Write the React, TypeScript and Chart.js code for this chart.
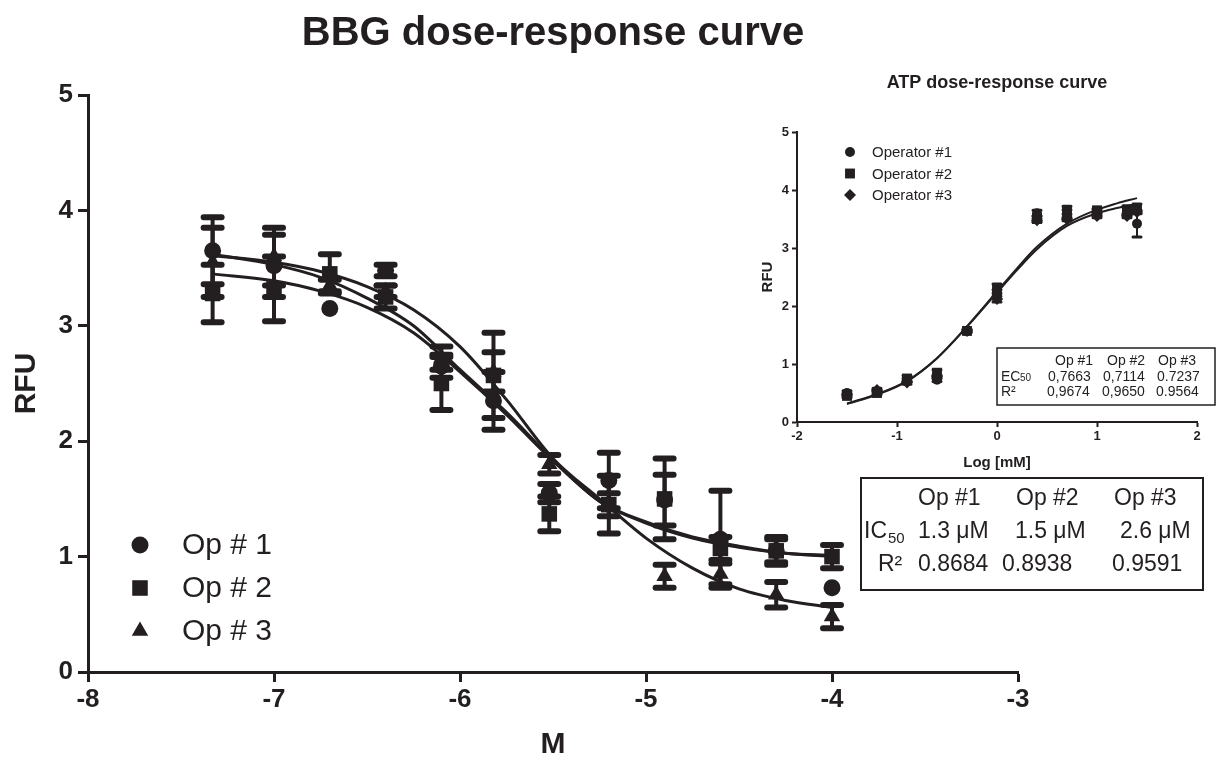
import React, { useEffect, useRef } from 'react';
import { Chart, registerables } from 'chart.js';
import { drawPoint } from 'chart.js/helpers';

Chart.register(...registerables);

const FONT = '"Liberation Sans", Arial, Helvetica, sans-serif';
const INK = '#231f20';

// ---------------- Main chart: BBG ----------------
const bbgTitle = 'BBG dose-response curve';
const bbgXTitle = 'M';
const bbgYTitle = 'RFU';
const bbgLogM = [-7.33, -7.0, -6.7, -6.4, -6.1, -5.82, -5.52, -5.2, -4.9, -4.6, -4.3, -4.0];
const op1Values = [3.65, 3.52, 3.15, 3.48, 2.65, 2.35, 1.55, 1.66, 1.49, 1.15, 1.05, 0.73];
const op1Errors = [0.29, 0.27, 0, 0.05, 0.1, 0.25, 0.08, 0.24, 0.22, 0.42, 0.1, 0];
const op2Values = [3.28, 3.32, 3.45, 3.25, 2.5, 2.57, 1.37, 1.45, 1.5, 1.07, 1.05, 1.0];
const op2Errors = [0.25, 0.28, 0.17, 0.1, 0.23, 0.37, 0.15, 0.25, 0.35, 0.1, 0.12, 0.1];
const op3Values = [3.55, 3.6, 3.35, 3.3, 2.72, 2.6, 1.8, 1.45, 0.83, 0.85, 0.67, 0.48];
const op3Errors = [0.3, 0.25, 0.05, 0.05, 0.1, 0.17, 0.08, 0.1, 0.1, 0.09, 0.11, 0.1];

const bbgCurveX = [-7.33, -7.0, -6.75, -6.5, -6.25, -6.0, -5.75, -5.5, -5.25, -5.0, -4.75, -4.5, -4.25, -4.0];
const op1Curve = [3.62, 3.53, 3.42, 3.24, 3.0, 2.62, 2.25, 1.84, 1.48, 1.3, 1.17, 1.09, 1.03, 1.01];
const op2Curve = [3.45, 3.39, 3.3, 3.16, 2.94, 2.6, 2.23, 1.83, 1.48, 1.29, 1.16, 1.08, 1.03, 1.0];
const op3Curve = [3.61, 3.55, 3.47, 3.34, 3.14, 2.82, 2.36, 1.85, 1.5, 1.16, 0.9, 0.72, 0.62, 0.56];

const bbgNames = ['Op # 1', 'Op # 2', 'Op # 3'];
const bbgTableHeader = ['Op #1', 'Op #2', 'Op #3'];
const bbgIC50 = ['1.3 μM', '1.5 μM', '2.6 μM'];
const bbgR2 = ['0.8684', '0.8938', '0.9591'];

// ---------------- Inset chart: ATP ----------------
const atpTitle = 'ATP dose-response curve';
const atpXTitle = 'Log [mM]';
const atpYTitle = 'RFU';
const atpLogMM = [-1.5, -1.2, -0.9, -0.6, -0.3, 0, 0.4, 0.7, 1.0, 1.3, 1.4];
const atp1Values = [0.5, 0.52, 0.72, 0.73, 1.57, 2.2, 3.6, 3.58, 3.63, 3.65, 3.42];
const atp1Errors = [0.04, 0.03, 0.03, 0.03, 0.02, 0.08, 0.05, 0.08, 0.03, 0.05, 0.23];
const atp2Values = [0.45, 0.5, 0.75, 0.85, 1.57, 2.3, 3.5, 3.65, 3.65, 3.65, 3.68];
const atp2Errors = [0.03, 0.03, 0.05, 0.05, 0.03, 0.08, 0.05, 0.07, 0.03, 0.08, 0.08];
const atp3Values = [0.47, 0.55, 0.68, 0.78, 1.57, 2.12, 3.48, 3.5, 3.55, 3.55, 3.62];
const atp3Errors = [0.03, 0.03, 0.03, 0.03, 0.02, 0.05, 0.03, 0.03, 0.03, 0.03, 0.03];

const atpCurveX = [-1.5, -1.2, -0.9, -0.6, -0.3, 0, 0.2, 0.4, 0.7, 1.0, 1.2, 1.4];
const atpCurveA = [0.31, 0.47, 0.7, 1.1, 1.65, 2.25, 2.65, 3.02, 3.42, 3.66, 3.77, 3.86];
const atpCurveB = [0.32, 0.48, 0.71, 1.1, 1.64, 2.23, 2.62, 2.98, 3.38, 3.6, 3.69, 3.76];

const atpNames = ['Operator #1', 'Operator #2', 'Operator #3'];
const atpTableHeader = ['Op #1', 'Op #2', 'Op #3'];
const atpEC50 = ['0,7663', '0,7114', '0.7237'];
const atpR2 = ['0,9674', '0,9650', '0.9564'];

const pts = (xs: number[], ys: number[]) => xs.map((x, i) => ({ x, y: ys[i] }));

const errorBarPlugin = {
  id: 'errorBars',
  beforeDatasetsDraw(chart: any, _args: any, opts: any) {
    const { ctx, scales } = chart;
    const xs = scales.x;
    const ys = scales.y;
    ctx.save();
    ctx.strokeStyle = INK;
    (opts.series || []).forEach((s: any) => {
      s.xs.forEach((xv: number, i: number) => {
        const e = s.errors[i];
        if (!e) return;
        const px = xs.getPixelForValue(xv);
        const top = ys.getPixelForValue(s.values[i] + e);
        const bot = ys.getPixelForValue(s.values[i] - e);
        ctx.lineCap = 'butt';
        ctx.lineWidth = opts.lineWidth;
        ctx.beginPath();
        ctx.moveTo(px, top);
        ctx.lineTo(px, bot);
        ctx.stroke();
        ctx.lineCap = 'round';
        ctx.lineWidth = opts.capWidth;
        ctx.beginPath();
        ctx.moveTo(px - opts.capHalf, top);
        ctx.lineTo(px + opts.capHalf, top);
        ctx.moveTo(px - opts.capHalf, bot);
        ctx.lineTo(px + opts.capHalf, bot);
        ctx.stroke();
      });
    });
    ctx.restore();
  },
};

const mainDecor = {
  id: 'mainDecor',
  afterDraw(chart: any) {
    const { ctx, chartArea } = chart;
    ctx.save();
    ctx.fillStyle = INK;
    ctx.strokeStyle = INK;
    ctx.textBaseline = 'middle';
    ctx.textAlign = 'center';
    ctx.font = `bold 40px ${FONT}`;
    ctx.fillText(bbgTitle, (chartArea.left + chartArea.right) / 2, 34);

    // legend
    const styles = ['circle', 'rect', 'triangle'];
    const radii = [8.5, 11, 9.5];
    bbgNames.forEach((name, i) => {
      const y = 545 + i * 43;
      drawPoint(ctx, { pointStyle: styles[i], radius: radii[i], rotation: 0, borderWidth: 0 } as any, 140, y);
      ctx.font = `30px ${FONT}`;
      ctx.textAlign = 'left';
      ctx.fillText(name, 182, y + 1);
    });

    // table
    ctx.lineWidth = 2;
    ctx.strokeRect(861, 478, 342, 112);
    ctx.font = `23px ${FONT}`;
    ctx.textAlign = 'left';
    const cols = [918, 1016, 1114];
    bbgTableHeader.forEach((t, i) => ctx.fillText(t, cols[i], 499));
    ctx.fillText('IC', 864, 532);
    ctx.font = `15px ${FONT}`;
    ctx.fillText('50', 888, 539);
    ctx.font = `23px ${FONT}`;
    const icCols = [918, 1015, 1120];
    bbgIC50.forEach((t, i) => ctx.fillText(t, icCols[i], 532));
    ctx.fillText('R²', 878, 565);
    const rCols = [918, 1002, 1112];
    bbgR2.forEach((t, i) => ctx.fillText(t, rCols[i], 565));
    ctx.restore();
  },
};

const insetDecor = {
  id: 'insetDecor',
  afterDraw(chart: any) {
    const { ctx } = chart;
    ctx.save();
    ctx.fillStyle = INK;
    ctx.strokeStyle = INK;
    ctx.textBaseline = 'middle';
    ctx.textAlign = 'center';
    ctx.font = `bold 18px ${FONT}`;
    ctx.fillText(atpTitle, 257, 23);

    const styles = ['circle', 'rect', 'rectRot'];
    const radii = [5, 7, 6];
    atpNames.forEach((name, i) => {
      const y = 92 + i * 21.5;
      drawPoint(ctx, { pointStyle: styles[i], radius: radii[i], rotation: 0, borderWidth: 0 } as any, 110, y);
      ctx.font = `15px ${FONT}`;
      ctx.textAlign = 'left';
      ctx.fillText(name, 132, y + 1);
    });

    ctx.lineWidth = 1.5;
    ctx.strokeRect(257, 288, 218, 57);
    ctx.font = `14px ${FONT}`;
    ctx.textAlign = 'left';
    const hc = [315, 367, 418];
    atpTableHeader.forEach((t, i) => ctx.fillText(t, hc[i], 301));
    ctx.fillText('EC', 261, 317);
    ctx.font = `10px ${FONT}`;
    ctx.fillText('50', 280, 318);
    ctx.font = `14px ${FONT}`;
    const vc = [308, 363, 417];
    atpEC50.forEach((t, i) => ctx.fillText(t, vc[i], 317));
    ctx.fillText('R²', 261, 332);
    atpR2.forEach((t, i) => ctx.fillText(t, vc[i] - 1, 332));
    ctx.restore();
  },
};

function axis(opts: {
  min: number; max: number; title: string; tickSize: number; titleSize: number;
  tickLen: number; lineW: number; tickPad: number; titlePad: any; titleLH: number; fit: (s: any) => void;
}) {
  return {
    type: 'linear',
    min: opts.min,
    max: opts.max,
    afterFit: opts.fit,
    ticks: {
      stepSize: 1,
      color: INK,
      padding: opts.tickPad,
      font: { family: FONT, size: opts.tickSize, weight: 'bold' },
    },
    grid: {
      display: true,
      drawOnChartArea: false,
      drawTicks: true,
      tickLength: opts.tickLen,
      tickWidth: opts.lineW,
      color: INK,
    },
    border: { display: true, width: opts.lineW, color: INK },
    title: {
      display: true,
      text: opts.title,
      color: INK,
      padding: opts.titlePad,
      font: { family: FONT, size: opts.titleSize, weight: 'bold', lineHeight: opts.titleLH },
    },
  };
}

export default function App() {
  const mainRef = useRef<HTMLCanvasElement>(null);
  const insetRef = useRef<HTMLCanvasElement>(null);

  useEffect(() => {
    const curve = (data: number[], xs: number[], w: number) => ({
      data: pts(xs, data),
      showLine: true,
      borderColor: INK,
      borderWidth: w,
      pointRadius: 0,
      cubicInterpolationMode: 'monotone',
      fill: false,
    });
    const marks = (data: number[], xs: number[], style: string, r: number) => ({
      data: pts(xs, data),
      showLine: false,
      pointStyle: style,
      pointRadius: r,
      pointHoverRadius: r,
      backgroundColor: INK,
      borderColor: INK,
      borderWidth: 0,
    });

    const main = new Chart(mainRef.current as HTMLCanvasElement, {
      type: 'scatter',
      data: {
        datasets: [
          curve(op1Curve, bbgCurveX, 3),
          curve(op2Curve, bbgCurveX, 3),
          curve(op3Curve, bbgCurveX, 3),
          marks(op1Values, bbgLogM, 'circle', 8.5),
          marks(op2Values, bbgLogM, 'rect', 11),
          marks(op3Values, bbgLogM, 'triangle', 9.5),
        ] as any,
      },
      options: {
        responsive: false,
        animation: false,
        events: [],
        layout: { padding: { left: 0, right: 199, top: 95, bottom: 0 } },
        plugins: {
          legend: { display: false },
          tooltip: { enabled: false },
          title: { display: false },
          errorBars: {
            lineWidth: 4,
            capWidth: 6,
            capHalf: 9,
            series: [
              { xs: bbgLogM, values: op1Values, errors: op1Errors },
              { xs: bbgLogM, values: op2Values, errors: op2Errors },
              { xs: bbgLogM, values: op3Values, errors: op3Errors },
            ],
          },
        } as any,
        scales: {
          x: axis({
            min: -8, max: -3, title: bbgXTitle, tickSize: 26, titleSize: 30, tickLen: 10, lineW: 3,
            tickPad: 2, titlePad: { top: 0, bottom: 0 }, titleLH: 0.8, fit: (s: any) => { s.height = 85; },
          }),
          y: axis({
            min: 0, max: 5, title: bbgYTitle, tickSize: 26, titleSize: 30, tickLen: 10, lineW: 3,
            tickPad: 5, titlePad: { top: 12, bottom: 0 }, titleLH: 1, fit: (s: any) => { s.width = 88; },
          }),
        } as any,
      },
      plugins: [errorBarPlugin, mainDecor],
    });

    const inset = new Chart(insetRef.current as HTMLCanvasElement, {
      type: 'scatter',
      data: {
        datasets: [
          curve(atpCurveA, atpCurveX, 2),
          curve(atpCurveB, atpCurveX, 2),
          marks(atp1Values, atpLogMM, 'circle', 5),
          marks(atp2Values, atpLogMM, 'rect', 7),
          marks(atp3Values, atpLogMM, 'rectRot', 6),
        ] as any,
      },
      options: {
        responsive: false,
        animation: false,
        events: [],
        layout: { padding: { left: 0, right: 20, top: 72, bottom: 0 } },
        plugins: {
          legend: { display: false },
          tooltip: { enabled: false },
          title: { display: false },
          errorBars: {
            lineWidth: 2,
            capWidth: 3,
            capHalf: 4,
            series: [
              { xs: atpLogMM, values: atp1Values, errors: atp1Errors },
              { xs: atpLogMM, values: atp2Values, errors: atp2Errors },
              { xs: atpLogMM, values: atp3Values, errors: atp3Errors },
            ],
          },
        } as any,
        scales: {
          x: axis({
            min: -2, max: 2, title: atpXTitle, tickSize: 13, titleSize: 15, tickLen: 5, lineW: 2,
            tickPad: 2, titlePad: { top: 0, bottom: 10 }, titleLH: 1, fit: (s: any) => { s.height = 58; },
          }),
          y: axis({
            min: 0, max: 5, title: atpYTitle, tickSize: 13, titleSize: 15, tickLen: 5, lineW: 2,
            tickPad: 3, titlePad: { top: 20, bottom: 0 }, titleLH: 1, fit: (s: any) => { s.width = 57; },
          }),
        } as any,
      },
      plugins: [errorBarPlugin, insetDecor],
    });

    return () => {
      main.destroy();
      inset.destroy();
    };
  }, []);

  return (
    <div style={{ position: 'fixed', left: 0, top: 0, width: 1217, height: 757, background: '#fff' }}>
      <canvas
        ref={mainRef}
        width={1217}
        height={757}
        style={{ position: 'absolute', left: 0, top: 0, width: 1217, height: 757 }}
      />
      <canvas
        ref={insetRef}
        width={477}
        height={420}
        style={{ position: 'absolute', left: 740, top: 60, width: 477, height: 420 }}
      />
    </div>
  );
}
